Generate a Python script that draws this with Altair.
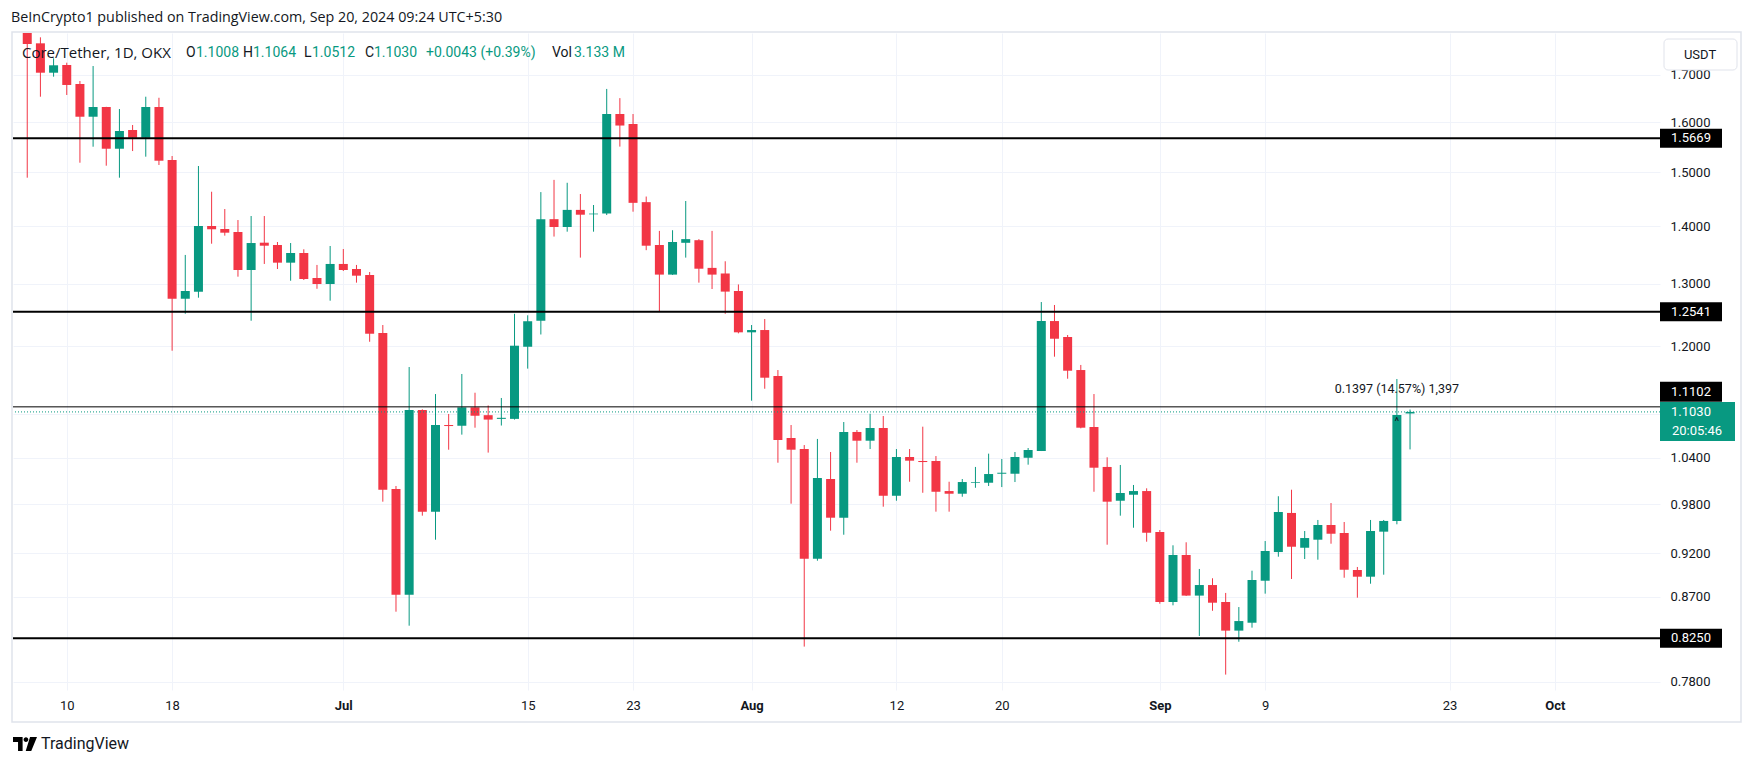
import altair as alt
import pandas as pd

# ---------------- data ----------------
dates = [d.strftime("%Y-%m-%d") for d in pd.date_range("2024-06-07", "2024-09-20", freq="D")]

open_ = [1.8200, 1.7700, 1.7045, 1.7215, 1.6800, 1.6109, 1.6311, 1.5461, 1.5837, 1.5681,
         1.6311, 1.5239, 1.2754, 1.2869, 1.4002, 1.3948, 1.3894, 1.3233, 1.3705, 1.3664,
         1.3358, 1.3525, 1.3098, 1.2997, 1.3336, 1.3250, 1.3148, 1.2205, 0.9991, 0.8724,
         1.1057, 0.9705, 1.0846, 1.0836, 1.1095, 1.0984, 1.0932, 1.0932, 1.1992, 1.2397,
         1.4125, 1.3984, 1.4294, 1.4213, 1.4226, 1.6165, 1.5959, 1.4437, 1.3664, 1.3155,
         1.3703, 1.3749, 1.3269, 1.3174, 1.2881, 1.2216, 1.2252, 1.1550, 1.0667, 1.0517,
         0.9136, 1.0120, 0.9630, 1.0750, 1.0630, 1.0805, 0.9905, 1.0410, 1.0357, 1.0357,
         0.9965, 0.9931, 1.0072, 1.0072, 1.0189, 1.0189, 1.0400, 1.0490, 1.2394, 1.2143,
         1.1639, 1.0819, 1.0278, 0.9842, 0.9918, 0.9965, 0.9455, 0.8643, 0.9180, 0.8714,
         0.8833, 0.8643, 0.8331, 0.8416, 0.8882, 0.9215, 0.9689, 0.9266, 0.9362, 0.9540,
         0.9443, 0.9005, 0.8928, 0.9459, 0.9588, 1.1008]
high = [1.8350, 1.7837, 1.7363, 1.7265, 1.6864, 1.7192, 1.6315, 1.6269, 1.5939, 1.6528,
        1.6506, 1.5317, 1.3491, 1.5122, 1.4631, 1.4310, 1.4109, 1.4182, 1.4182, 1.3717,
        1.3699, 1.3589, 1.3319, 1.3647, 1.3594, 1.3319, 1.3199, 1.2331, 1.0030, 1.1684,
        1.1067, 1.1286, 1.1001, 1.1580, 1.1305, 1.1122, 1.1229, 1.2510, 1.2486, 1.4624,
        1.4855, 1.4800, 1.4588, 1.4384, 1.6694, 1.6498, 1.6165, 1.4541, 1.3914, 1.3926,
        1.4458, 1.3768, 1.3914, 1.3382, 1.2990, 1.2331, 1.2426, 1.1639, 1.0846, 1.0571,
        1.0654, 1.0477, 1.0888, 1.0777, 1.1005, 1.0972, 1.0517, 1.0517, 1.0823, 1.0423,
        1.0085, 1.0120, 1.0278, 1.0455, 1.0383, 1.0477, 1.0531, 1.2700, 1.2652, 1.2174,
        1.1715, 1.1286, 1.0406, 1.0304, 1.0043, 1.0000, 0.9479, 0.9295, 0.9331, 0.9017,
        0.8910, 0.8744, 0.8587, 0.8997, 0.9346, 0.9899, 0.9982, 0.9467, 0.9602, 0.9813,
        0.9577, 0.9040, 0.9602, 0.9602, 1.1506, 1.1064]
low = [1.4897, 1.6528, 1.6958, 1.6565, 1.5186, 1.5501, 1.5128, 1.4897, 1.5415, 1.5304,
       1.5142, 1.1931, 1.2511, 1.2771, 1.3687, 1.3829, 1.3120, 1.2399, 1.3336, 1.3250,
       1.3052, 1.3064, 1.2918, 1.2722, 1.3216, 1.3020, 1.2069, 0.9830, 0.8536, 0.8384,
       0.9655, 0.9362, 1.0508, 1.0713, 1.0809, 1.0469, 1.0839, 1.0922, 1.1660, 1.2182,
       1.3813, 1.3900, 1.3445, 1.3900, 1.4200, 1.5503, 1.4261, 1.3574, 1.2539, 1.3150,
       1.3445, 1.3020, 1.2914, 1.2510, 1.2200, 1.1190, 1.1363, 1.0334, 0.9805, 0.8162,
       0.9113, 0.9471, 0.9422, 1.0334, 1.0517, 0.9767, 0.9842, 1.0085, 0.9943, 0.9705,
       0.9705, 0.9893, 1.0007, 1.0030, 1.0016, 1.0081, 1.0308, 1.0490, 1.1840, 1.1510,
       1.0800, 0.9956, 0.9302, 0.9655, 0.9507, 0.9338, 0.8624, 0.8606, 0.8710, 0.8274,
       0.8546, 0.7874, 0.8213, 0.8363, 0.8736, 0.9160, 0.8902, 0.9133, 0.9125, 0.9314,
       0.8916, 0.8691, 0.8848, 0.8951, 0.9549, 1.0512]
close = [1.7685, 1.7045, 1.7208, 1.6779, 1.6109, 1.6311, 1.5461, 1.5817, 1.5681, 1.6311,
         1.5225, 1.2754, 1.2881, 1.4002, 1.3943, 1.3882, 1.3233, 1.3699, 1.3652, 1.3358,
         1.3525, 1.3081, 1.2997, 1.3336, 1.3233, 1.3137, 1.2194, 0.9982, 0.8724, 1.1057,
         0.9705, 1.0846, 1.0832, 1.1095, 1.0976, 1.0922, 1.0947, 1.2008, 1.2391, 1.4125,
         1.3984, 1.4294, 1.4206, 1.4226, 1.6165, 1.5928, 1.4424, 1.3652, 1.3155, 1.3717,
         1.3768, 1.3255, 1.3155, 1.2871, 1.2216, 1.2252, 1.1525, 1.0640, 1.0508, 0.9136,
         1.0133, 0.9630, 1.0750, 1.0630, 1.0805, 0.9905, 1.0410, 1.0361, 1.0343, 0.9956,
         0.9931, 1.0081, 1.0081, 1.0185, 1.0202, 1.0410, 1.0504, 1.2394, 1.2116, 1.1629,
         1.0809, 1.0268, 0.9830, 0.9940, 0.9965, 0.9446, 0.8643, 0.9180, 0.8714, 0.8833,
         0.8635, 0.8331, 0.8434, 0.8890, 0.9227, 0.9701, 0.9278, 0.9382, 0.9540, 0.9434,
         0.9008, 0.8928, 0.9467, 0.9590, 1.0985, 1.1030]

levels_thick = [1.5669, 1.2541, 0.8250]
level_thin = [1.1102]
last_price = [1.1030]
countdown = "20:05:46"

y_ticks = [1.7, 1.6, 1.5, 1.4, 1.3, 1.2, 1.1, 1.04, 0.98, 0.92, 0.87, 0.78]
x_tick_dates = [(2024, 6, 10), (2024, 6, 18), (2024, 7, 1), (2024, 7, 15), (2024, 7, 23),
                (2024, 8, 1), (2024, 8, 12), (2024, 8, 20), (2024, 9, 1), (2024, 9, 9),
                (2024, 9, 23), (2024, 10, 1)]

header_title = "BeInCrypto1 published on TradingView.com, Sep 20, 2024 09:24 UTC+5:30"
legend_parts = [("Core/Tether, 1D, OKX", "dark"), ("O", "dark"), ("1.1008", "green"),
                ("H", "dark"), ("1.1064", "green"), ("L", "dark"), ("1.0512", "green"),
                ("C", "dark"), ("1.1030", "green"), ("+0.0043 (+0.39%)", "green"),
                ("Vol", "dark"), ("3.133 M", "green")]
measure_text = "0.1397 (14.57%) 1,397"
measure_date = "2024-09-19"

# ---------------- styling ----------------
W, H = 1647, 657
GREEN = "#089981"
RED = "#F23645"
DARK = "#131722"
GRID = "#f0f3fa"
FONT = "Roboto"

df = pd.DataFrame(dict(date=dates, open=open_, high=high, low=low, close=close))
df["dir"] = ["up" if c >= o else "down" for o, c in zip(open_, close)]

xscale = alt.Scale(type="utc", domain=[
    alt.DateTime(year=2024, month=6, date=6, hours=7, minutes=9, utc=True),
    alt.DateTime(year=2024, month=10, date=8, hours=14, minutes=24, utc=True)])
yscale = alt.Scale(type="log", domain=[0.7720, 1.7936], nice=False, zero=False)

month_test = "utcdate(datum.value) == 1"
xaxis = alt.Axis(
    values=[alt.DateTime(year=y, month=m, date=d, utc=True) for (y, m, d) in x_tick_dates],
    labelExpr=f"{month_test} ? utcFormat(datum.value, '%b') : utcFormat(datum.value, '%-d')",
    labelFontWeight={"condition": {"test": month_test, "value": "bold"}, "value": "normal"},
    grid=True, gridColor=GRID, gridWidth=1, ticks=False, domain=False,
    labelPadding=9, labelFont=FONT, labelFontSize=13, labelColor=DARK, title=None,
    labelFlush=False, labelOverlap=False)
yaxis = alt.Axis(
    orient="right", values=y_ticks,
    labelExpr="datum.value == 1.1 ? '' : format(datum.value, '.4f')",
    grid=True, gridColor=GRID, gridWidth=1, ticks=False, domain=False,
    labelPadding=10, labelAlign="left", labelBaseline="middle", labelFont=FONT,
    labelFontSize=13, labelColor=DARK, title=None, labelOverlap=False)

color = alt.Color("dir:N", scale=alt.Scale(domain=["up", "down"], range=[GREEN, RED]), legend=None)

base = alt.Chart(df)
wicks = base.mark_rule(strokeWidth=1, clip=True).encode(
    x=alt.X("date:T", scale=xscale, axis=xaxis),
    y=alt.Y("low:Q", scale=yscale, axis=yaxis),
    y2="high:Q", color=color)
bodies = base.mark_bar(size=9, clip=True).encode(
    x=alt.X("date:T", scale=xscale),
    y=alt.Y("open:Q", scale=yscale),
    y2="close:Q", color=color)

one = pd.DataFrame({"a": [0]})

# frame around the whole chart
frame = alt.Chart(one).mark_rect(fill=None, stroke="#e0e3eb", strokeWidth=1.5).encode(
    x=alt.value(-1), x2=alt.value(1728), y=alt.value(-1), y2=alt.value(689))

lv = pd.DataFrame({"price": levels_thick})
lt = pd.DataFrame({"price": level_thin})
lp = pd.DataFrame({"price": last_price, "cd": [countdown]})

rules_thick = alt.Chart(lv).mark_rule(color="black", strokeWidth=2).encode(
    y=alt.Y("price:Q", scale=yscale))
rule_thin = alt.Chart(lt).mark_rule(color="black", strokeWidth=1).encode(
    y=alt.Y("price:Q", scale=yscale))
rule_last = alt.Chart(lp).mark_rule(color=GREEN, strokeWidth=1, strokeDash=[1, 2]).encode(
    y=alt.Y("price:Q", scale=yscale))

# price tags
tag_thick = alt.Chart(lv).mark_rule(color="black", strokeWidth=19, strokeCap="butt").encode(
    y=alt.Y("price:Q", scale=yscale), x=alt.value(W), x2=alt.value(W + 62))
tag_thick_t = alt.Chart(lv).mark_text(color="white", fontSize=13, font=FONT, baseline="middle").encode(
    y=alt.Y("price:Q", scale=yscale), x=alt.value(W + 31), text=alt.Text("price:Q", format=".4f"))
tag_thin = alt.Chart(lt).mark_rule(color="black", strokeWidth=20, strokeCap="butt", yOffset=-15).encode(
    y=alt.Y("price:Q", scale=yscale), x=alt.value(W), x2=alt.value(W + 62))
tag_thin_t = alt.Chart(lt).mark_text(color="white", fontSize=13, font=FONT, baseline="middle", yOffset=-15).encode(
    y=alt.Y("price:Q", scale=yscale), x=alt.value(W + 31), text=alt.Text("price:Q", format=".4f"))
tag_last = alt.Chart(lp).mark_rule(color=GREEN, strokeWidth=39, strokeCap="butt", yOffset=9.5).encode(
    y=alt.Y("price:Q", scale=yscale), x=alt.value(W), x2=alt.value(W + 75))
tag_last_t = alt.Chart(lp).mark_text(color="white", fontSize=13, font=FONT, baseline="middle").encode(
    y=alt.Y("price:Q", scale=yscale), x=alt.value(W + 31), text=alt.Text("price:Q", format=".4f"))
tag_last_cd = alt.Chart(lp).mark_text(color="white", fontSize=13, font=FONT, baseline="middle", yOffset=19.5).encode(
    y=alt.Y("price:Q", scale=yscale), x=alt.value(W + 37), text="cd:N")

# USDT button
usdt_box = alt.Chart(one).mark_rect(fill="white", stroke="#e0e3eb", strokeWidth=1, cornerRadius=4).encode(
    x=alt.value(1651), x2=alt.value(1724), y=alt.value(6), y2=alt.value(37))
usdt_t = alt.Chart(one).mark_text(text="USDT", fontSize=13, font=FONT, color=DARK, baseline="middle").encode(
    x=alt.value(1687), y=alt.value(22))

# measurement label and arrow
md = pd.DataFrame({"date": [measure_date], "t": [measure_text], "p": [close[-2]]})
measure = alt.Chart(md).mark_text(fontSize=12.5, font=FONT, color=DARK, baseline="middle").encode(
    x=alt.X("date:T", scale=xscale), y=alt.value(356), text="t:N")
arrow = alt.Chart(md).mark_text(text="^", fontSize=11, font=FONT, color=DARK, baseline="top", yOffset=1).encode(
    x=alt.X("date:T", scale=xscale), y=alt.Y("p:Q", scale=yscale))

# header texts
title_t = alt.Chart(one).mark_text(text=header_title, fontSize=14.3, font="Open Sans", color=DARK,
                                   align="left", baseline="middle").encode(x=alt.value(-2), y=alt.value(-15))

legend_x = [9, 173, 183, 230, 240, 291, 299, 352, 361, 413, 539, 561]
legend_layers = []
for i, ((txt, col), xx) in enumerate(zip(legend_parts, legend_x)):
    legend_layers.append(
        alt.Chart(one).mark_text(text=txt, fontSize=(15 if i == 0 else 14),
                                 font=("Open Sans" if i == 0 else FONT),
                                 color=(GREEN if col == "green" else DARK),
                                 align="left", baseline="middle").encode(x=alt.value(xx), y=alt.value(20)))

# TradingView logo (shape) and wordmark
logo_path = ("M-1,-0.58 L-0.2,-0.58 L-0.2,0.58 L-0.58,0.58 L-0.58,-0.17 L-1,-0.17 Z "
             "M-0.12,-0.37 A0.2,0.2 0 1,0 0.28,-0.37 A0.2,0.2 0 1,0 -0.12,-0.37 Z "
             "M0.42,-0.58 L1,-0.58 L0.52,0.58 L0.06,0.58 Z")
logo_icon = alt.Chart(one).mark_point(shape=logo_path, size=576, filled=True, fill="black",
                                      stroke=None, opacity=1).encode(x=alt.value(12), y=alt.value(711))
logo_t = alt.Chart(one).mark_text(text="TradingView", fontSize=16, font=FONT, color=DARK,
                                  align="left", baseline="middle").encode(x=alt.value(28), y=alt.value(711))

chart = alt.layer(
    wicks, bodies, frame, rules_thick, rule_thin, rule_last,
    tag_thick, tag_thick_t, tag_thin, tag_thin_t, tag_last, tag_last_t, tag_last_cd,
    usdt_box, usdt_t, measure, arrow, title_t, *legend_layers, logo_icon, logo_t
).properties(
    width=W, height=H,
    autosize=alt.AutoSizeParams(type="none"),
    padding={"left": 5, "top": 25, "right": 86, "bottom": 68},
    background="white",
).configure_view(stroke=None)

chart.save("out.html", embed_options={"renderer": "svg", "actions": False})
